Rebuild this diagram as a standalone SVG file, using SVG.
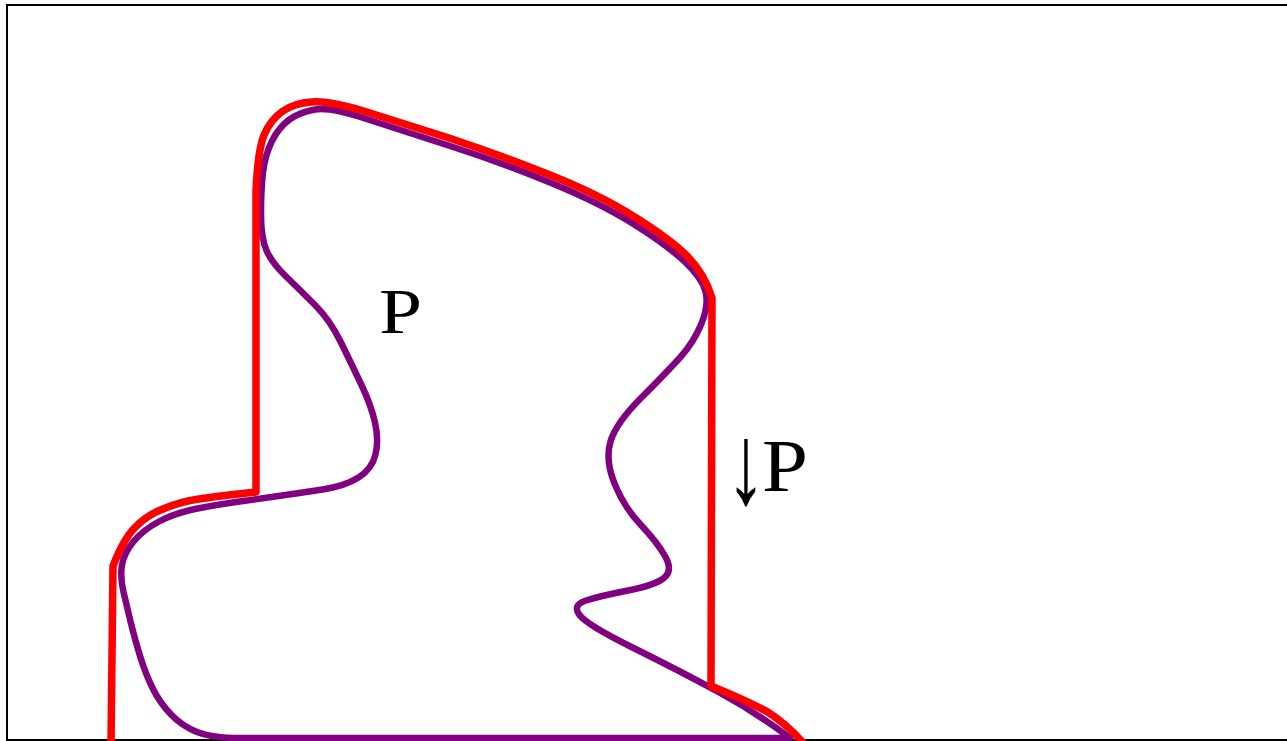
<svg xmlns="http://www.w3.org/2000/svg" width="1287" height="741" viewBox="0 0 1287 741">
<style>
.frame{fill:none;stroke:#000;stroke-width:2}
.set{fill:none;stroke:#800080;stroke-width:6.5;stroke-linejoin:round}
.down{fill:none;stroke:#ff0000;stroke-width:7.5;stroke-linejoin:round}
.lbl{font-family:"Liberation Serif","DejaVu Serif",serif;fill:#000}
</style>
<rect width="1287" height="741" fill="#fff"/>
<rect class="frame" x="7" y="5" width="1290" height="735"/>
<g id="P">
<path class="set" d="M 790,738 L 240,738 Q 212,738 197,732 Q 182,726 171,714.5 Q 160,703 153,689 Q 146,675 140.5,657.5 Q 135,640 131,623.5 Q 127,607 123.5,592 Q 120,577 122,565 Q 124,553 133.5,541.5 Q 143,530 159,521.5 Q 175,513 195,509 Q 215,505 236,502 Q 257,499 278.5,496 Q 300,493 322.5,489.5 Q 345,486 358.5,477.5 Q 372,469 375.5,454.5 Q 379,440 375,422.5 Q 371,405 361.5,385 Q 352,365 341,342.5 Q 330,320 315,305 Q 300,290 286,276.5 Q 272,263 266.5,250.5 Q 261,238 261,214 Q 261,190 263,172.5 Q 265,155 272,141 Q 279,127 289.5,119.5 Q 300,112 315,109.5 Q 330,107 365,118.5 Q 400,130 450,146 Q 500,162 550,182.5 Q 600,203 633.5,224 Q 667,245 684.5,261.5 Q 702,278 705.5,291.5 Q 709,305 701.5,323.5 Q 694,342 680.5,357 Q 667,372 641.5,397.5 Q 616,423 610.5,441.5 Q 605,460 614.5,483.5 Q 624,507 640.5,524.5 Q 657,542 665,556 Q 673,570 664.5,577.5 Q 656,585 628,590.5 Q 600,596 586,600.5 Q 572,605 579.5,615 Q 587,625 633.5,648 Q 680,671 718.5,692 Q 757,713 790,738 Z"/>
<text class="lbl" x="379" y="333" font-size="64" textLength="43" lengthAdjust="spacingAndGlyphs">P</text>
</g>
<g id="downP">
<path class="down" d="M 111,745 L 113,566 Q 124,538 135.5,527 Q 147,515 163,509 Q 179,502 199,499 Q 219,496 256,492 L 256,190 Q 258,150 264,135 Q 271,119 283,111 Q 295,103 311,102 Q 326,100 362,110.5 Q 398,122 449,138 Q 500,155 550,175 Q 600,195 633,216 Q 667,237 685,254 Q 704,272 712,298 L 711,686 Q 745,700 766,711 Q 787,724 805,745"/>
<text class="lbl" transform="translate(746,503) scale(0.7,1)" text-anchor="middle" font-size="114">↓</text>
<text class="lbl" x="762" y="491" font-size="75" textLength="46" lengthAdjust="spacingAndGlyphs">P</text>
</g>
</svg>
